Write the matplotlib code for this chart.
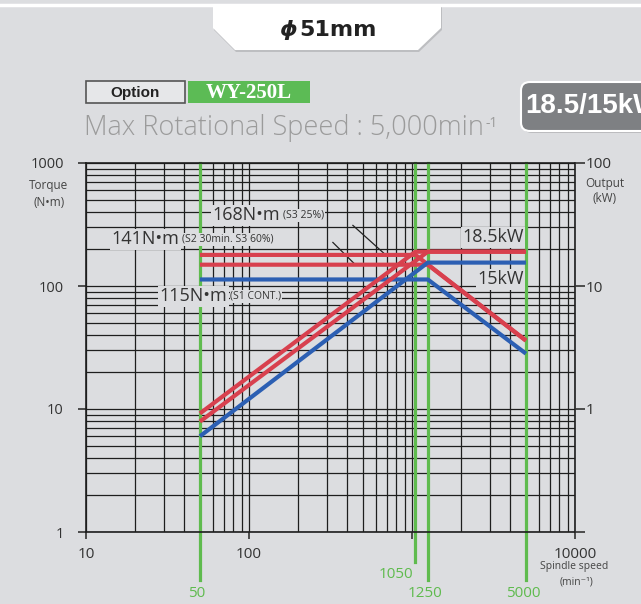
import matplotlib.pyplot as plt
from matplotlib.patches import Polygon, FancyBboxPatch, Rectangle
from matplotlib.lines import Line2D
from matplotlib.text import Annotation

# speeds (min-1) marked with green guide lines
guide_speeds = [50, 1050, 1250, 5000]
guide_labels = ["50", "1050", "1250", "5000"]

# torque curves, N*m (left axis)
s3_torque_speed = [50, 1050, 5000]
s3_torque = [179, 179, 36]
s2_torque_speed = [50, 1250, 5000]
s2_torque = [149, 149, 36]
s1_torque_speed = [50, 1250, 5000]
s1_torque = [113, 113, 28.2]

# output curves, kW (right axis)
s3_output_speed = [50, 1050, 5000]
s3_output = [0.92, 19.0, 19.0]
s2_output_speed = [50, 1250, 5000]
s2_output = [0.79, 19.0, 19.0]
s1_output_speed = [50, 1250, 5000]
s1_output = [0.60, 15.5, 15.5]

x_ticks = [10, 100, 1000, 10000]
x_ticklabels = ["10", "100", "", "10000"]
torque_ticks = [1, 10, 100, 1000]
output_ticks = [0.1, 1, 10, 100]
output_ticklabels = ["", "1", "10", "100"]

BG = "#dcdde0"
RED = "#d8404e"
BLUE = "#2c5fb3"
GREEN = "#5fbb4e"
TXT = "#333333"
FONT = ["Open Sans", "DejaVu Sans"]

W, H = 641, 604


def fx(x):
    return x / W


def fy(y):
    return 1 - y / H


plt.rcParams['font.family'] = FONT

fig = plt.figure(figsize=(W / 100, H / 100), dpi=100)
fig.patch.set_facecolor(BG)

#%% header
fig.add_artist(Line2D([0, 1], [fy(5), fy(5)], color="white", lw=2.5))
tab = [(213, 5), (213, 28), (235, 50), (418, 50), (441, 28), (441, 5)]
shadow = Polygon([(fx(x + 1), fy(y + 2)) for x, y in tab], closed=True,
                 fc="#bdbec1", ec="none", transform=fig.transFigure)
fig.add_artist(shadow)
fig.add_artist(Polygon([(fx(x), fy(y)) for x, y in tab], closed=True,
                       fc="white", ec="none", transform=fig.transFigure))
fig.text(fx(297), fy(30), "\u03d5", ha="right", va="center",
         fontsize=16, fontweight="bold", style="italic", color="#222222",
         family=["DejaVu Sans"])
fig.text(fx(299), fy(30), "51mm", ha="left", va="center",
         fontsize=16, fontweight="bold", color="#222222",
         family=["DejaVu Sans"])

fig.add_artist(Rectangle((fx(86), fy(103)), fx(99), 22 / H,
                         fc="#e6e7e9", ec="#555555", lw=1.2,
                         transform=fig.transFigure))
fig.text(fx(135.5), fy(92.5), "Option", ha="center", va="center",
         fontsize=11, fontweight="bold", color="#222222",
         family=["Liberation Sans"])
fig.add_artist(Rectangle((fx(188), fy(103)), fx(122), 22 / H,
                         fc="#5cbb55", ec="none", transform=fig.transFigure))
fig.text(fx(249), fy(92.5), "WY-250L", ha="center", va="center",
         fontsize=15, fontweight="bold", color="white",
         family=["Liberation Serif"])

t_max = fig.text(fx(84), fy(128), "Max Rotational Speed : 5,000min",
                 ha="left", va="center", fontsize=19.5, fontweight="light",
                 color="#9b9b9b")
fig.add_artist(Annotation("-1", xy=(1, 1), xycoords=t_max, xytext=(1, -1.5),
                          textcoords="offset points", va="top", ha="left",
                          fontsize=10, color="#9b9b9b"))

fig.add_artist(FancyBboxPatch((fx(523), fy(133)), fx(140), 49 / H,
                              boxstyle="round,pad=0,rounding_size=0.014",
                              fc="#b9babd", ec="none",
                              transform=fig.transFigure))
fig.add_artist(FancyBboxPatch((fx(521), fy(131)), fx(140), 49 / H,
                              boxstyle="round,pad=0,rounding_size=0.014",
                              fc="#7e8083", ec="white", lw=1.5,
                              transform=fig.transFigure))
fig.text(fx(525), fy(106), "18.5/15kW", ha="left", va="center",
         fontsize=20, fontweight="bold", color="white",
         family=["Liberation Sans Narrow", "Liberation Sans"])

#%% chart
ax = fig.add_axes([fx(86), fy(532), 489 / W, 369 / H])
ax.set_facecolor(BG)
ax.set_xscale("log")
ax.set_yscale("log")
ax.set_xlim(10, 10000)
ax.set_ylim(1, 1000)
ax.set_axisbelow(True)
ax.grid(which="both", color="#1e1e1e", lw=0.9)
for sp in ax.spines.values():
    sp.set_color("#1e1e1e")
    sp.set_linewidth(1.2)

ax.set_xticks(x_ticks)
ax.set_xticklabels(x_ticklabels)
ax.set_yticks(torque_ticks)
ax.set_yticklabels([str(t) for t in torque_ticks])
ax.tick_params(which="minor", length=0)
ax.tick_params(axis="x", which="major", length=5, width=1.2, pad=6,
               labelsize=11, colors=TXT)
ax.tick_params(axis="y", which="major", length=6, width=1.2, pad=10,
               labelsize=10.5, colors=TXT)

# green guide lines
for s, lab in zip(guide_speeds, guide_labels):
    low = -0.081 if s == 1050 else -0.13
    ax.axvline(s, ymin=low, ymax=1, color=GREEN, lw=2.3, clip_on=False,
               zorder=1.5)
    if s == 1050:
        ax.text(s * 0.97, -0.114, lab, transform=ax.get_xaxis_transform(),
                ha="right", va="center", fontsize=11, color=GREEN)
    else:
        ax.text(s * 0.96, -0.168, lab, transform=ax.get_xaxis_transform(),
                ha="center", va="center", fontsize=11, color=GREEN)

# torque curves
ax.plot(s3_torque_speed, s3_torque, color=RED, lw=3, zorder=4,
        solid_capstyle="butt")
ax.plot(s2_torque_speed, s2_torque, color=RED, lw=3, zorder=4,
        solid_capstyle="butt")
ax.plot(s1_torque_speed, s1_torque, color=BLUE, lw=3, zorder=4,
        solid_capstyle="butt")

# annotations
box = dict(boxstyle="square,pad=0.08", fc=BG, ec="none")


def label(x, y, big, small=None):
    t = ax.text(x, y, big, ha="left", va="center", fontsize=13, color=TXT,
                bbox=box, zorder=3)
    if small:
        ax.annotate(small, xy=(1, 0), xycoords=t, xytext=(2, 2.5),
                    textcoords="offset points", ha="left", va="bottom",
                    fontsize=7.5, color=TXT, bbox=box, zorder=3)
    return t


label(60, 375, "168N\u2022m", "(S3 25%)")
label(14.4, 240, "141N\u2022m", "(S2 30min. S3 60%)")
label(28.4, 82.6, "115N\u2022m", "(S1 CONT.)")
label(2030, 249, "18.5kW")
label(2505, 113.5, "15kW")

ax.plot([434, 683], [311, 181], color="#222222", lw=0.9, zorder=3.5)
ax.plot([327, 447], [226, 150], color="#222222", lw=0.9, zorder=3.5)

# axis captions
fig.text(fx(49), fy(186), "Torque", ha="center", va="center", fontsize=8.5,
         color="#444444")
fig.text(fx(49), fy(202), "(N\u2022m)", ha="center", va="center",
         fontsize=8.5, color="#444444")
fig.text(fx(605), fy(184), "Output", ha="center", va="center", fontsize=8.5,
         color="#444444")
fig.text(fx(605), fy(199), "(kW)", ha="center", va="center", fontsize=8.5,
         color="#444444")
fig.text(fx(574), fy(567), "Spindle speed", ha="center", va="center",
         fontsize=7.5, color="#444444")
fig.text(fx(577), fy(582), "(min\u207b\u00b9)", ha="center", va="center",
         fontsize=7.5, color="#444444")

#%% output axis
ax2 = ax.twinx()
ax2.set_yscale("log")
ax2.set_ylim(0.1, 100)
ax2.set_yticks(output_ticks)
ax2.set_yticklabels(output_ticklabels)
ax2.tick_params(which="minor", length=0)
ax2.tick_params(axis="y", which="major", length=7, width=1.2, pad=1,
                labelsize=11, colors=TXT)
for sp in ax2.spines.values():
    sp.set_visible(False)

ax2.plot(s3_output_speed, s3_output, color=RED, lw=3, solid_capstyle="butt")
ax2.plot(s2_output_speed, s2_output, color=RED, lw=3, solid_capstyle="butt")
ax2.plot(s1_output_speed, s1_output, color=BLUE, lw=3, solid_capstyle="butt")

fig.savefig("out.png", dpi=100, facecolor=BG)
